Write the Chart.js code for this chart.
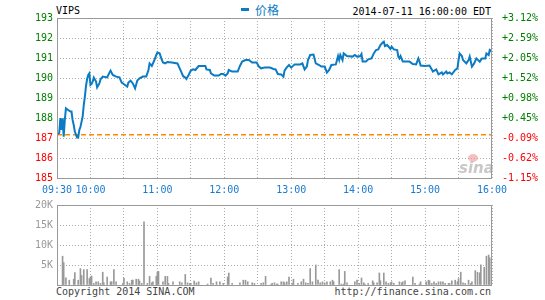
<!DOCTYPE html>
<html>
<head>
<meta charset="utf-8">
<script src="https://cdn.jsdelivr.net/npm/chart.js@4.4.1/dist/chart.umd.min.js"></script>
<style>
  body { margin: 0; background: #fff; width: 545px; height: 300px; overflow: hidden; position: relative; }
  canvas { position: absolute; left: 0; }
  .txt { position: absolute; font: 10px "DejaVu Sans Mono", monospace; line-height: 10px; white-space: pre; }
</style>
</head>
<body>
<div class="txt" style="left:56px; top:6px; color:#000;">VIPS</div>
<div style="position:absolute; left:241px; top:8px; width:8px; height:3px; background:#0b7bc4;"></div>
<div class="txt" style="left:255px; top:4px; color:#0b7bc4; font:12px 'Noto Sans CJK SC'; line-height:12px;">价格</div>
<div class="txt" style="right:54px; top:7px; color:#000;">2014-07-11 16:00:00 EDT</div>
<div class="txt" style="left:56px; top:287px; color:#444;">Copyright 2014 SINA.COM</div>
<div class="txt" style="right:54px; top:287px; color:#444;">http://finance.sina.com.cn</div>
<canvas id="priceChart" width="545" height="200" style="top:0"></canvas>
<canvas id="volChart" width="545" height="105" style="top:195px"></canvas>
<script>
// minutes after 09:30 and the price at that minute
const priceTimes = [0,1,2,3,4,5,6,7,8,10,12,13,14,15,16,18,19,20,21,23,24,25,26,27,28,29,30,31,32,33,35,36,38,39,41,45,47,48,50,53,56,58,61,63,64,66,68,70,72,74,77,80,82,83,85,87,89,90,92,94,95,97,99,103,108,110,112,113,115,116,118,120,122,124,127,133,134,137,138,141,145,147,149,151,153,154,157,162,164,166,169,172,175,179,181,183,186,191,194,196,198,201,203,204,206,208,210,213,218,220,222,224,225,227,230,232,235,237,240,242,244,246,250,252,253,254,256,257,260,265,267,269,272,273,274,277,279,282,284,286,288,290,292,293,294,296,299,300,302,305,306,307,308,310,316,319,322,324,325,326,330,334,336,337,340,342,345,346,349,350,352,354,357,359,360,361,363,364,367,369,370,372,374,376,379,381,384,385,387,388,390];
const prices = [187.18,187.22,187.25,188.0,187.4,187.98,187.07,187.9,188.48,188.4,188.32,188.32,187.9,187.65,187.32,187.03,187.03,187.4,187.55,188.07,188.65,189.07,189.6,189.95,190.15,190.23,189.65,189.7,189.82,190.02,189.82,189.53,189.73,189.93,190.07,190.03,190.27,190.37,190.15,190.07,190.03,189.77,189.65,189.57,189.77,189.87,189.73,189.48,189.87,189.98,190.07,190.07,190.4,190.73,190.6,190.85,191.15,191.27,191.23,190.9,190.78,190.73,190.8,190.78,190.73,190.48,190.23,190.1,190.02,189.95,190.15,190.37,190.43,190.4,190.6,190.6,190.43,190.4,190.23,190.12,190.12,190.2,190.2,190.12,190.23,190.4,190.32,190.32,190.6,190.82,190.9,190.9,190.77,190.77,190.57,190.48,190.52,190.52,190.45,190.43,190.2,190.18,190.07,190.37,190.53,190.65,190.52,190.68,190.68,190.73,190.43,190.57,190.9,191.15,191.17,190.73,190.65,190.57,190.57,190.27,190.4,190.65,190.68,191.1,190.9,191.15,190.9,191.23,191.1,191.07,191.15,191.07,191.1,191.2,190.82,190.82,190.93,190.98,191.23,191.4,191.43,191.65,191.78,191.82,191.6,191.65,191.45,191.57,191.43,191.4,191.07,190.98,191.1,190.82,190.82,190.7,190.68,190.98,190.82,190.62,190.6,190.62,190.43,190.32,190.43,190.18,190.28,190.18,190.32,190.23,190.28,190.18,190.4,190.48,190.9,191.23,191.1,190.9,190.73,190.9,191.07,190.57,190.73,190.98,190.82,190.98,190.98,191.23,191.15,191.4,191.32];
const prevClose = 187.16;

// volume in thousands of shares
const volTimes = [5,6,8,11,15,16,19,21,22,24,27,29,30,31,33,35,37,39,41,42,45,48,49,51,53,59,60,63,65,67,68,71,73,74,76,78,81,83,85,86,89,90,91,95,97,99,100,104,110,112,115,117,119,120,123,125,127,135,138,140,143,146,149,153,154,157,164,167,169,171,175,177,183,185,187,192,193,195,197,198,201,203,204,206,208,211,212,216,219,221,223,225,227,229,232,234,236,238,240,242,245,247,248,253,255,257,258,260,267,269,271,273,275,276,279,283,284,287,289,290,293,295,297,299,300,302,307,309,310,312,319,321,325,326,331,333,334,336,338,340,342,344,346,348,351,352,354,357,359,360,362,364,366,369,371,372,375,377,379,380,383,385,387,388];
const volK = [7.2,5.6,1.8,1.2,1.45,3.1,1.2,4.1,2.4,3.85,3.85,1.6,2.0,2.25,0.4,0.8,0.8,0.4,3.2,0.55,2.0,0.8,0.8,3.85,0.8,0.4,1.75,0.8,0.4,1.2,1.2,1.45,1.45,1.0,0.4,15.8,0.4,2.15,0.55,0.8,2.15,3.2,3.4,0.8,2.15,2.15,0.4,0.8,0.8,0.55,2.65,0.55,0.4,0.4,1.0,0.55,0.8,0.25,1.75,0.4,0.8,0.8,0.4,2.0,3.0,0.4,0.55,1.2,1.2,0.8,0.55,0.4,0.4,0.55,2.15,0.25,0.4,0.55,0.25,0.25,0.8,0.8,0.55,0.8,2.0,0.4,1.45,0.4,0.8,1.45,0.55,0.4,4.1,0.8,5.0,1.2,0.55,0.8,0.55,0.8,0.8,1.2,0.8,3.85,0.25,0.25,3.4,0.55,0.8,1.2,0.4,1.75,0.55,0.25,0.4,1.05,0.55,0.55,3.0,1.05,3.0,0.8,0.4,0.55,0.8,0.4,0.8,0.55,0.8,1.05,2.0,0.4,0.25,0.8,0.8,1.2,1.05,0.4,0.8,0.4,0.8,0.8,0.8,0.4,0.4,0.4,1.05,1.2,0.8,1.6,3.2,0.55,0.4,1.2,0.4,0.8,3.6,3.2,3.05,5.05,4.4,7.2,7.5,6.8];

const xTickMinutes = [0, 30, 90, 150, 210, 270, 330, 390];
const xTickText = ['09:30', '10:00', '11:00', '12:00', '13:00', '14:00', '15:00', '16:00'];
const pctLabels = ['-1.15%', '-0.62%', '-0.09%', '+0.45%', '+0.98%', '+1.52%', '+2.05%', '+2.59%', '+3.12%'];
const volTickText = ['', '5K', '10K', '15K', '20K'];

const monoFont = { family: 'DejaVu Sans Mono', size: 10 };
const lineBlue = '#0b7bc4';
const gridColor = '#aaaaaa';

// frame round the plot area
const framePlugin = {
    id: 'frame',
    afterDraw(chart) {
        const a = chart.chartArea, ctx = chart.ctx;
        ctx.save();
        ctx.strokeStyle = '#999999';
        ctx.lineWidth = 1;
        ctx.strokeRect(Math.round(a.left) + 0.5, Math.round(a.top) + 0.5,
            Math.round(a.right - a.left) - 1, Math.round(a.bottom - a.top));
        ctx.restore();
    }
};

// sina watermark
const sinaPlugin = {
    id: 'sina',
    beforeDatasetsDraw(chart) {
        const ctx = chart.ctx;
        ctx.save();
        ctx.fillStyle = 'rgba(240,150,150,0.6)';
        ctx.beginPath();
        ctx.ellipse(473, 158, 5, 4, 0, 0, Math.PI * 2);
        ctx.fill();
        ctx.fillStyle = '#c8c8c8';
        ctx.font = 'italic bold 15px "DejaVu Sans"';
        ctx.fillText('sina', 459, 173);
        ctx.restore();
    }
};

new Chart(document.getElementById('priceChart'), {
    type: 'line',
    data: {
        datasets: [
            {
                label: '价格',
                data: priceTimes.map((t, i) => ({ x: t, y: prices[i] })),
                borderColor: lineBlue,
                borderWidth: 2,
                pointRadius: 0,
                tension: 0,
                yAxisID: 'y'
            },
            {
                label: 'prev',
                data: [{ x: 0, y: prevClose }, { x: 390, y: prevClose }],
                borderColor: '#ff8c00',
                borderWidth: 1.5,
                borderDash: [5, 3],
                pointRadius: 0,
                yAxisID: 'y'
            }
        ]
    },
    options: {
        animation: false,
        responsive: false,
        layout: { padding: { top: 18, left: 0, right: 0, bottom: 0 } },
        plugins: { legend: { display: false }, tooltip: { enabled: false } },
        scales: {
            x: {
                type: 'linear', min: 0, max: 390,
                afterFit: s => { s.height = 22; },
                ticks: {
                    stepSize: 30, autoSkip: false, maxRotation: 0, padding: 6,
                    color: '#1a7bd0', font: monoFont,
                    callback: v => { const i = xTickMinutes.indexOf(v); return i >= 0 ? xTickText[i] : ''; }
                },
                grid: { color: gridColor, drawTicks: false },
                border: { display: false, dash: [1, 2] }
            },
            y: {
                position: 'left', min: 185, max: 193,
                afterFit: s => { s.width = 57; },
                ticks: {
                    stepSize: 1, padding: 4, font: monoFont,
                    color: c => c.tick.value > prevClose ? '#008000' : '#ff0000'
                },
                grid: { color: gridColor, drawTicks: false },
                border: { display: false, dash: [1, 2] }
            },
            y2: {
                position: 'right', min: 185, max: 193,
                afterFit: s => { s.width = 53; },
                ticks: {
                    stepSize: 1, padding: 2, font: monoFont,
                    color: c => c.tick.value > prevClose ? '#008000' : '#ff0000',
                    callback: (v, i) => pctLabels[i]
                },
                grid: { display: false },
                border: { display: false }
            }
        }
    },
    plugins: [sinaPlugin, framePlugin]
});

new Chart(document.getElementById('volChart'), {
    type: 'bar',
    data: {
        datasets: [{
            data: volTimes.map((t, i) => ({ x: t, y: volK[i] })),
            backgroundColor: '#999999',
            barThickness: 1
        }]
    },
    options: {
        animation: false,
        responsive: false,
        layout: { padding: { top: 7, left: 0, right: 53, bottom: 0 } },
        plugins: { legend: { display: false }, tooltip: { enabled: false } },
        scales: {
            x: {
                type: 'linear', min: 0, max: 390, offset: false,
                afterFit: s => { s.height = 15; },
                ticks: { stepSize: 30, display: false },
                grid: { color: gridColor, drawTicks: false, offset: false },
                border: { display: false, dash: [1, 2] }
            },
            y: {
                min: 0, max: 20,
                afterFit: s => { s.width = 57; },
                ticks: {
                    stepSize: 5, padding: 4, color: '#999999', font: monoFont,
                    callback: (v, i) => volTickText[i]
                },
                grid: { color: gridColor, drawTicks: false },
                border: { display: false, dash: [1, 2] }
            }
        }
    },
    plugins: [framePlugin]
});
</script>
</body>
</html>
